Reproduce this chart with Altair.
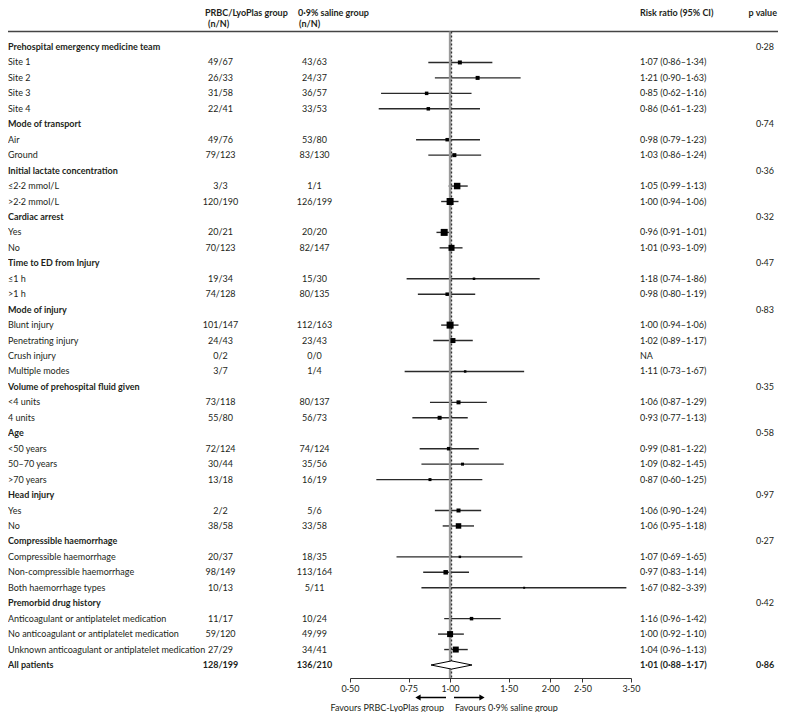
import altair as alt
import pandas as pd

# ---------------- data ----------------
labels = [
    "Prehospital emergency medicine team", "Site 1", "Site 2", "Site 3", "Site 4",
    "Mode of transport", "Air", "Ground",
    "Initial lactate concentration", "≤2·2 mmol/L", ">2·2 mmol/L",
    "Cardiac arrest", "Yes", "No",
    "Time to ED from Injury", "≤1 h", ">1 h",
    "Mode of injury", "Blunt injury", "Penetrating injury", "Crush injury", "Multiple modes",
    "Volume of prehospital fluid given", "<4 units", "4 units",
    "Age", "<50 years", "50–70 years", ">70 years",
    "Head injury", "Yes", "No",
    "Compressible haemorrhage", "Compressible haemorrhage", "Non-compressible haemorrhage",
    "Both haemorrhage types",
    "Premorbid drug history", "Anticoagulant or antiplatelet medication",
    "No anticoagulant or antiplatelet medication",
    "Unknown anticoagulant or antiplatelet medication",
    "All patients",
]
row_kind = [
    "group", "item", "item", "item", "item",
    "group", "item", "item",
    "group", "item", "item",
    "group", "item", "item",
    "group", "item", "item",
    "group", "item", "item", "item", "item",
    "group", "item", "item",
    "group", "item", "item", "item",
    "group", "item", "item",
    "group", "item", "item", "item",
    "group", "item", "item", "item",
    "total",
]
prbc = [
    "", "49/67", "26/33", "31/58", "22/41",
    "", "49/76", "79/123",
    "", "3/3", "120/190",
    "", "20/21", "70/123",
    "", "19/34", "74/128",
    "", "101/147", "24/43", "0/2", "3/7",
    "", "73/118", "55/80",
    "", "72/124", "30/44", "13/18",
    "", "2/2", "38/58",
    "", "20/37", "98/149", "10/13",
    "", "11/17", "59/120", "27/29",
    "128/199",
]
saline = [
    "", "43/63", "24/37", "36/57", "33/53",
    "", "53/80", "83/130",
    "", "1/1", "126/199",
    "", "20/20", "82/147",
    "", "15/30", "80/135",
    "", "112/163", "23/43", "0/0", "1/4",
    "", "80/137", "56/73",
    "", "74/124", "35/56", "16/19",
    "", "5/6", "33/58",
    "", "18/35", "113/164", "5/11",
    "", "10/24", "49/99", "34/41",
    "136/210",
]
rr = [
    None, 1.07, 1.21, 0.85, 0.86,
    None, 0.98, 1.03,
    None, 1.05, 1.00,
    None, 0.96, 1.01,
    None, 1.18, 0.98,
    None, 1.00, 1.02, None, 1.11,
    None, 1.06, 0.93,
    None, 0.99, 1.09, 0.87,
    None, 1.06, 1.06,
    None, 1.07, 0.97, 1.67,
    None, 1.16, 1.00, 1.04,
    1.01,
]
ci_low = [
    None, 0.86, 0.90, 0.62, 0.61,
    None, 0.79, 0.86,
    None, 0.99, 0.94,
    None, 0.91, 0.93,
    None, 0.74, 0.80,
    None, 0.94, 0.89, None, 0.73,
    None, 0.87, 0.77,
    None, 0.81, 0.82, 0.60,
    None, 0.90, 0.95,
    None, 0.69, 0.83, 0.82,
    None, 0.96, 0.92, 0.96,
    0.88,
]
ci_high = [
    None, 1.34, 1.63, 1.16, 1.23,
    None, 1.23, 1.24,
    None, 1.13, 1.06,
    None, 1.01, 1.09,
    None, 1.86, 1.19,
    None, 1.06, 1.17, None, 1.67,
    None, 1.29, 1.13,
    None, 1.22, 1.45, 1.25,
    None, 1.24, 1.18,
    None, 1.65, 1.14, 3.39,
    None, 1.42, 1.10, 1.13,
    1.17,
]
# relative weight of each subgroup (drawn as square side)
weight = [
    None, 4, 4, 3.5, 3.5,
    None, 3.5, 4,
    None, 6.5, 7,
    None, 7, 6,
    None, 2.5, 3.5,
    None, 7, 5, None, 2.5,
    None, 4, 4,
    None, 3.5, 3, 3,
    None, 4, 5.5,
    None, 2.5, 4.5, 2,
    None, 3.5, 6, 6,
    None,
]
p_values = [
    "0·28", "", "", "", "",
    "0·74", "", "",
    "0·36", "", "",
    "0·32", "", "",
    "0·47", "", "",
    "0·83", "", "", "", "",
    "0·35", "", "",
    "0·58", "", "", "",
    "0·97", "", "",
    "0·27", "", "", "",
    "0·42", "", "", "",
    "0·86",
]
tick_values = [0.5, 0.75, 1.0, 1.5, 2.0, 2.5, 3.5]
overall_rr = 1.01
col_headers = ["PRBC/LyoPlas group", "(n/N)", "0·9% saline group", "(n/N)",
               "Risk ratio (95% CI)", "p value"]
favours = ["Favours PRBC-LyoPlas group", "Favours 0·9% saline group"]


def fmt_rr(r, l, h):
    if r is None:
        return "NA"
    return f"{r:.2f} ({l:.2f}–{h:.2f})".replace(".", "·")


rr_text = [fmt_rr(r, l, h) if k != "group" else "" for r, l, h, k in zip(rr, ci_low, ci_high, row_kind)]

df = pd.DataFrame({
    "row": list(range(len(labels))),
    "label": labels,
    "kind": row_kind,
    "prbc": prbc,
    "saline": saline,
    "rr": rr,
    "lo": ci_low,
    "hi": ci_high,
    "w": weight,
    "rrtext": rr_text,
    "p": p_values,
})
one = pd.DataFrame({"k": [0]})

# ---------------- styles / layout ----------------
W, H = 770, 670          # plot area; the x axis sits on its bottom edge
PAD_BOTTOM = 34
FONT = "Lato"
FS = 9
TXT = "#231f20"
RULE_Y = 23.5

xscale = alt.Scale(type="log", domain=[0.5, 3.5], range=[342, 623], nice=False)
yscale = alt.Scale(domain=[0, 40], range=[39, 657], nice=False, zero=False)
xaxis = alt.Axis(
    values=tick_values, labelExpr="replace(format(datum.value, '.2f'), '.', '·')",
    title=None, grid=False, domainColor="#333", tickColor="#333", tickSize=4,
    labelFont=FONT, labelFontSize=FS, labelColor=TXT, labelPadding=2,
    orient="bottom", labelFlush=False, labelOverlap=False,
)


def X(field=None, datum=None):
    if datum is not None:
        return alt.X(datum=datum, scale=xscale, axis=xaxis)
    return alt.X(field, type="quantitative", scale=xscale, axis=xaxis)


Y = alt.Y("row:Q", scale=yscale, axis=None)
base = alt.Chart(df)
valid = base.transform_filter("isValid(datum.rr) && datum.kind == 'item'")

ci = valid.mark_rule(color="#2a2a2a", strokeWidth=1.4).encode(
    x=X("lo"), x2="hi:Q", y=Y)
squares = valid.transform_calculate(area="datum.w * datum.w").mark_square(
    color="black", opacity=1).encode(
    x=X("rr"), y=Y,
    size=alt.Size("area:Q", scale=alt.Scale(type="linear", domain=[0, 100], range=[0, 100]),
                  legend=None))
diamond = base.transform_filter("datum.kind == 'total'").mark_point(
    shape="M-1,0L0,-0.2L1,0L0,0.2Z", filled=True, fill="white", stroke="black",
    strokeWidth=1, size=1681, opacity=1).encode(x=X("rr"), y=Y)

ref_line = alt.Chart(one).mark_rule(color="#9a9a9a", strokeWidth=2.5).encode(
    x=X(datum=1), y=alt.value(RULE_Y), y2=alt.value(H))
est_line = alt.Chart(one).mark_rule(color="#333", strokeWidth=1.3, strokeDash=[2, 2]).encode(
    x=X(datum=overall_rr), y=alt.value(RULE_Y), y2=alt.value(H))
top_rule = alt.Chart(one).mark_rule(color="#444", strokeWidth=1.5).encode(
    x=alt.value(0), x2=alt.value(W), y=alt.value(RULE_Y))


def col(field, x, align, bold_filter, normal_filter):
    out = []
    for flt, wgt in ((bold_filter, "bold"), (normal_filter, "normal")):
        out.append(base.transform_filter(flt).mark_text(
            align=align, baseline="middle", font=FONT, fontSize=FS, fontWeight=wgt, color=TXT
        ).encode(x=alt.value(x), y=Y, text=f"{field}:N"))
    return out


text_layers = []
text_layers += col("label", 0, "left", "datum.kind != 'item'", "datum.kind == 'item'")
text_layers += col("prbc", 212.5, "center", "datum.kind == 'total'", "datum.kind == 'item'")
text_layers += col("saline", 306.5, "center", "datum.kind == 'total'", "datum.kind == 'item'")
text_layers += col("rrtext", 632, "left", "datum.kind == 'total'", "datum.kind == 'item'")
text_layers += col("p", 748, "left", "datum.kind == 'total'", "datum.kind == 'group'")


def fixed_text(t, x, y, align="left", weight="bold"):
    return alt.Chart(one).mark_text(
        align=align, baseline="middle", font=FONT, fontSize=FS, fontWeight=weight, color=TXT
    ).encode(x=alt.value(x), y=alt.value(y), text=alt.value(t))


headers = [
    fixed_text(col_headers[0], 197, 5),
    fixed_text(col_headers[1], 200, 15.5),
    fixed_text(col_headers[2], 290, 5),
    fixed_text(col_headers[3], 291, 15.5),
    fixed_text(col_headers[4], 632, 5),
    fixed_text(col_headers[5], 769, 5, "right"),
    fixed_text(favours[0], 436, 699.5, "right", "normal"),
    fixed_text(favours[1], 447, 699.5, "left", "normal"),
]

ARROW_Y = 689.5
arrows = [
    alt.Chart(one).mark_rule(color="black", strokeWidth=1.5).encode(
        x=alt.value(410), x2=alt.value(438), y=alt.value(ARROW_Y)),
    alt.Chart(one).mark_point(shape="triangle-left", filled=True, color="black", size=36,
                              opacity=1).encode(x=alt.value(410), y=alt.value(ARROW_Y)),
    alt.Chart(one).mark_rule(color="black", strokeWidth=1.5).encode(
        x=alt.value(446), x2=alt.value(474), y=alt.value(ARROW_Y)),
    alt.Chart(one).mark_point(shape="triangle-right", filled=True, color="black", size=36,
                              opacity=1).encode(x=alt.value(474), y=alt.value(ARROW_Y)),
]

chart = alt.layer(
    ci, top_rule, ref_line, est_line, squares, diamond, *text_layers, *headers, *arrows
).properties(
    width=W, height=H,
    padding={"left": 0, "top": 0, "right": 0, "bottom": PAD_BOTTOM},
    autosize=alt.AutoSizeParams(type="none"),
).configure_view(stroke=None)

chart.save("out.html", embed_options={"renderer": "svg", "actions": False})
